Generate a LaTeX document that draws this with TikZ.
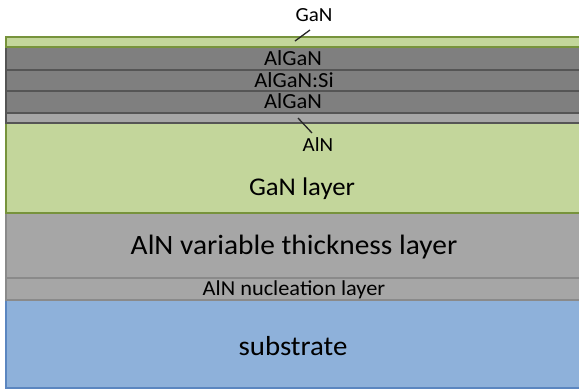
\documentclass[tikz,border=0pt]{standalone}
\usepackage{graphicx}
\usepackage{fontspec}
\setmainfont{Carlito}
\definecolor{gfill}{HTML}{C3D69B}
\definecolor{gline}{HTML}{77933C}
\definecolor{dfill}{HTML}{7F7F7F}
\definecolor{dline}{HTML}{555555}
\definecolor{lfill}{HTML}{A6A6A6}
\definecolor{lline}{HTML}{8A8A8A}
\definecolor{sfill}{HTML}{8EB1DA}
\definecolor{sline}{HTML}{5B86C0}
\newcommand{\wtxt}[2]{\fontsize{#1}{#1}\selectfont\scalebox{1.05}[1]{#2}}
\begin{document}
\begin{tikzpicture}[x=1pt,y=-1pt,
  layer/.style={line width=1.5pt},
  lbl/.style={anchor=base,inner sep=0pt,text=black},
  leader/.style={line width=1.3pt,black!85}]
\clip (0,0) rectangle (579,389);
\fill[white] (0,0) rectangle (579,389);
% layers, bottom up
\draw[layer,fill=sfill,draw=sline] (6,300) rectangle (590,388);
\draw[layer,fill=lfill,draw=lline] (6,278) rectangle (590,300);
\draw[layer,fill=lfill,draw=lline] (6,213) rectangle (590,278);
\draw[layer,fill=gfill,draw=gline] (6,123) rectangle (590,213);
\draw[layer,fill=lfill,draw=dline] (6,113) rectangle (590,123);
\draw[layer,fill=dfill,draw=dline] (6,91) rectangle (590,113);
\draw[layer,fill=dfill,draw=dline] (6,70) rectangle (590,91);
\draw[layer,fill=dfill,draw=dline] (6,47) rectangle (590,70);
\draw[layer,fill=gfill,draw=gline] (6,37) rectangle (590,47);
% labels
\node[lbl] (ganlbl) at (314,21) {\wtxt{20}{GaN}};
\node[lbl] (algan1) at (293,65.5) {\wtxt{21.5}{AlGaN}};
\node[lbl] (alganSi) at (294,87) {\wtxt{21.5}{AlGaN:Si}};
\node[lbl] (algan2) at (293,108.5) {\wtxt{21.5}{AlGaN}};
\node[lbl] (alnlbl) at (318,151) {\wtxt{20}{AlN}};
\node[lbl] (ganlayer) at (302,195) {\wtxt{25.5}{GaN layer}};
\node[lbl] (alnvar) at (294,254) {\wtxt{28}{AlN variable thickness layer}};
\node[lbl] (alnnuc) at (294,295) {\wtxt{21.3}{AlN nucleation layer}};
\node[lbl] (subst) at (293,355) {\wtxt{27.5}{substrate}};
% leaders
\coordinate (ganpt) at (295,41);
\coordinate (ganst) at (310,30);
\coordinate (alnpt) at (298,118);
\coordinate (alnst) at (312,133);
\draw[leader] (ganst) -- (ganpt);
\draw[leader] (alnst) -- (alnpt);
\end{tikzpicture}
\end{document}
